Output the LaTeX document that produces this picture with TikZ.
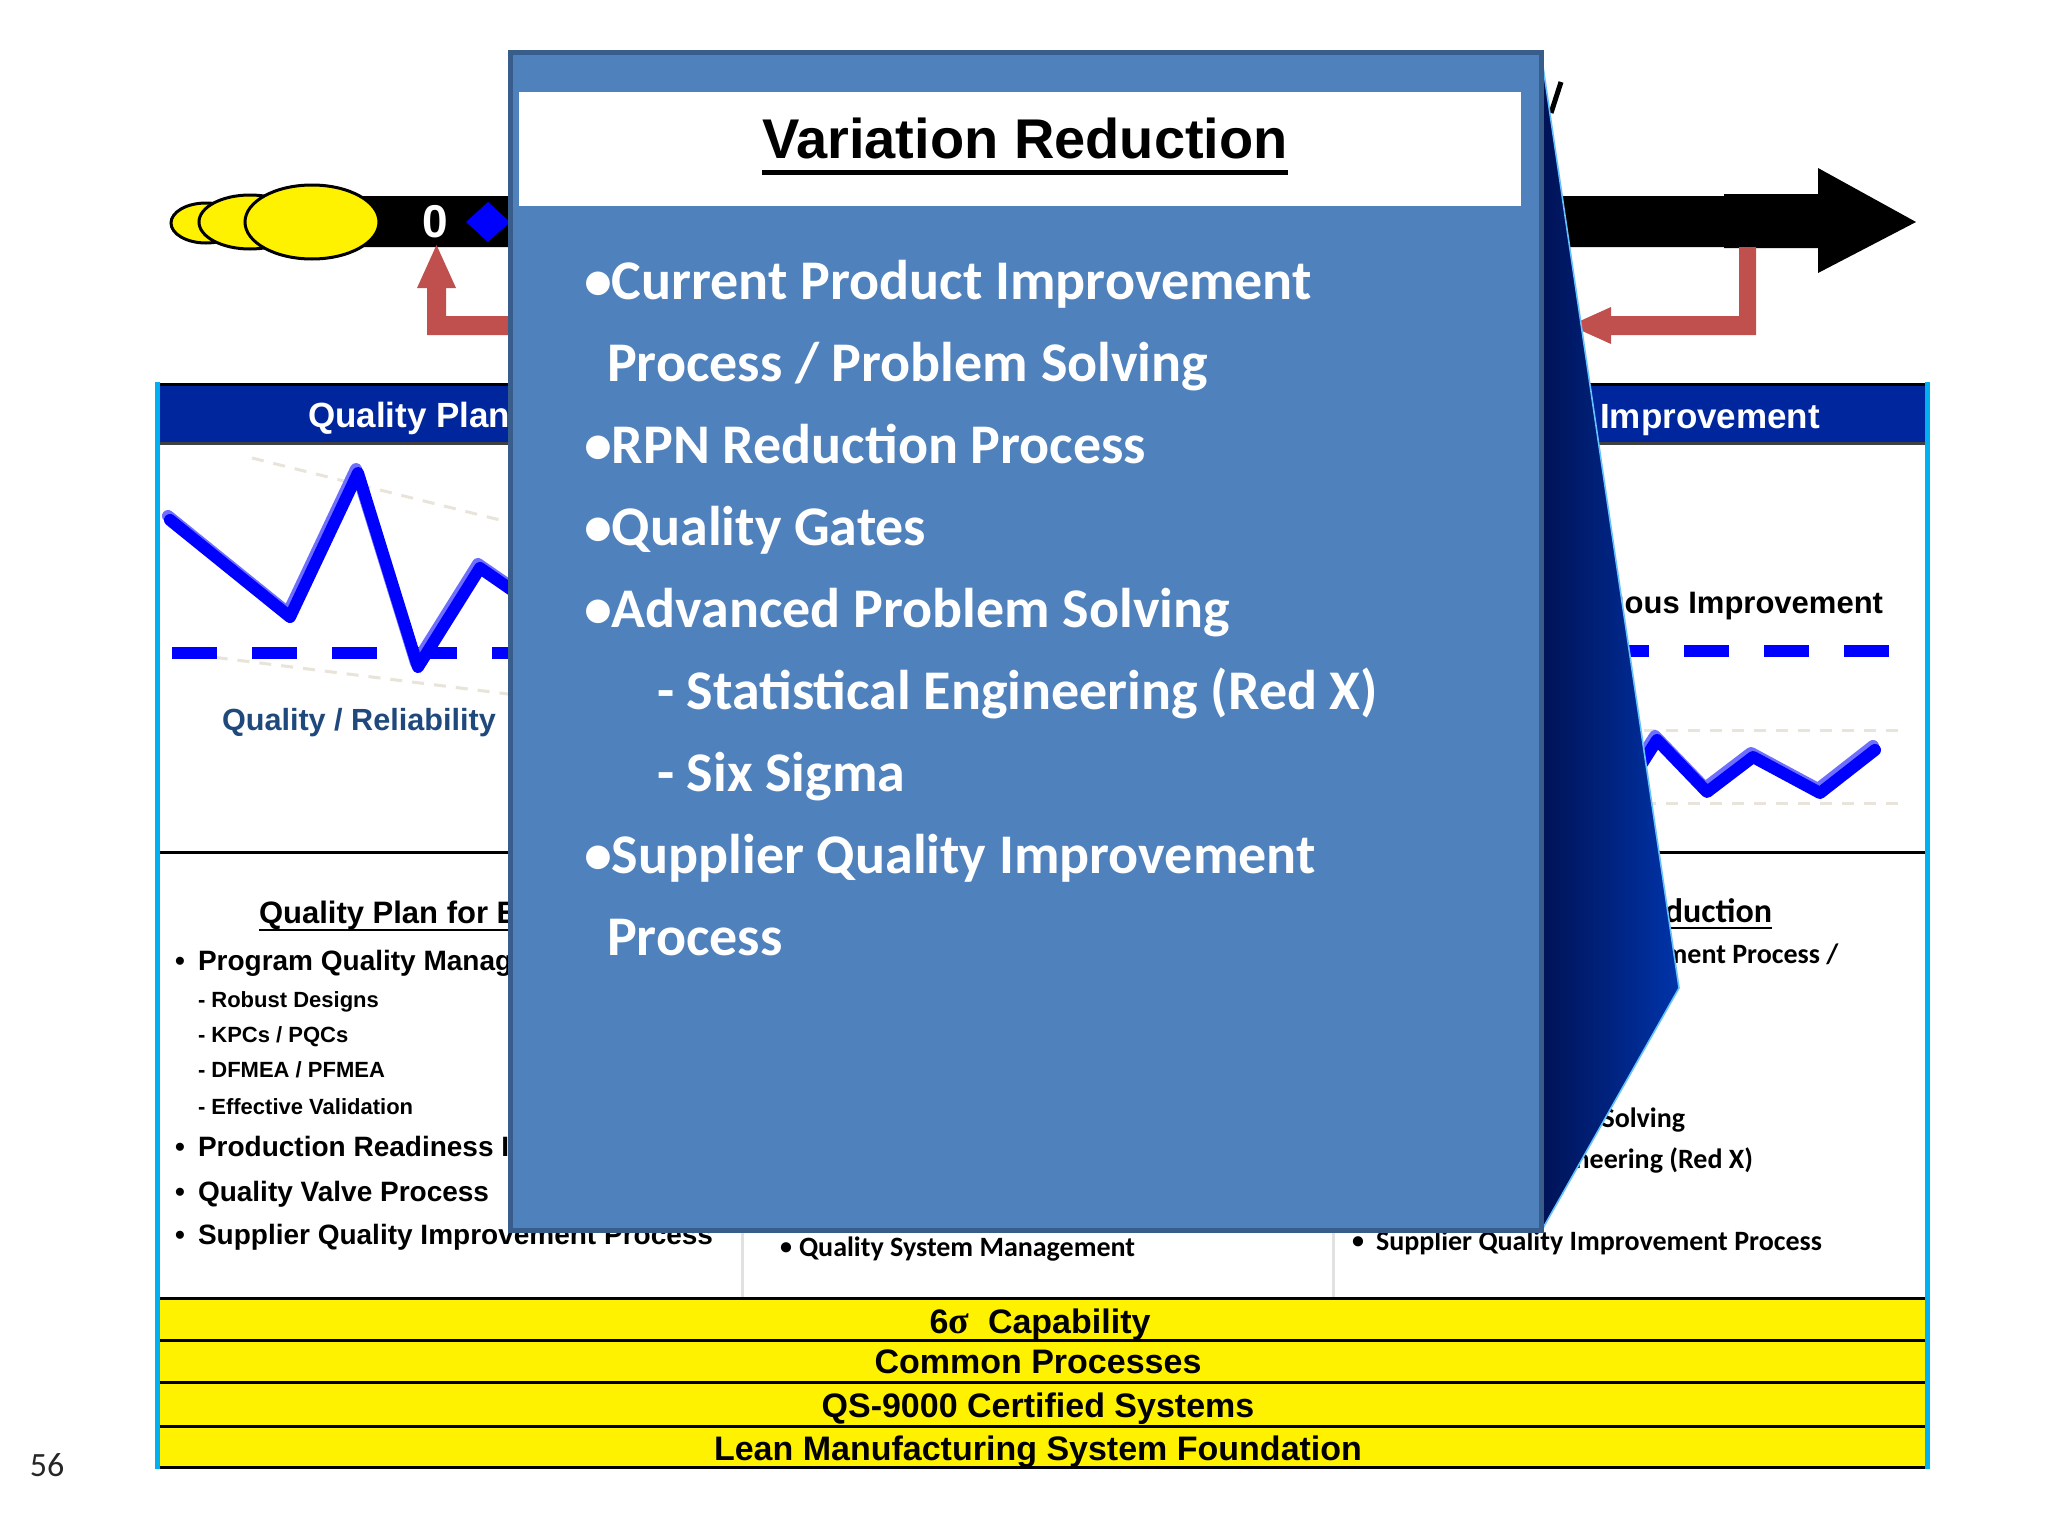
\documentclass[tikz,border=0pt]{standalone}
\usepackage{fontspec}
\setmainfont{Liberation Sans}
\newfontfamily\calibri{Carlito}
\newfontfamily\symserif{Liberation Serif}
\newcommand\fs[1]{\fontsize{#1}{#1}\selectfont}
\usetikzlibrary{shapes.geometric}
\definecolor{hdrblue}{RGB}{0,38,158}
\definecolor{cyanb}{RGB}{0,176,240}
\definecolor{popfill}{RGB}{79,129,189}
\definecolor{popedge}{RGB}{56,93,138}
\definecolor{arrred}{RGB}{192,80,77}
\definecolor{darkblue}{RGB}{31,73,125}
\definecolor{faint}{RGB}{232,228,218}
\definecolor{foldL}{RGB}{0,18,85}
\definecolor{foldR}{RGB}{0,52,170}
\definecolor{divgray}{RGB}{225,225,225}
\definecolor{lineshade}{RGB}{110,110,255}
\begin{document}
\begin{tikzpicture}[x=0.5pt,y=-0.5pt,
  txt/.style={inner sep=0pt, outer sep=0pt},
  ar/.style={txt, font=\bfseries\fs{14pt}},
  arsub/.style={txt, font=\bfseries\fs{11pt}},
  cb/.style={txt, font=\calibri\bfseries\fs{14pt}},
  cbul/.style={txt, font=\calibri\bfseries\fs{12pt}},
  pop/.style={txt, text=white, font=\calibri\bfseries\fs{28pt}},
  band/.style={txt, font=\bfseries\fs{17pt}},
  hdr/.style={txt, text=white, font=\bfseries\fs{17.5pt}},
  blob/.style={ellipse, draw=black, line width=1.5pt, fill=yellow, inner sep=0pt},
  trend/.style={blue, line width=6pt, line join=round, line cap=round},
  trendshade/.style={lineshade, line width=6pt, line join=round, line cap=round},
  level/.style={blue, line width=6pt, dash pattern=on 22.5pt off 17.5pt},
  faintline/.style={faint, line width=1.5pt, dash pattern=on 6pt off 5pt},
  rule/.style={black, line width=1.5pt}
]
\fill[white] (0,0) rectangle (2048,1536);
\useasboundingbox (0,0) rectangle (2048,1536);

% ---------- timeline arrow ----------
\fill[black] (330,196) -- (1724,196) -- (1724,194) -- (1818,194) -- (1818,168)
  -- (1916,222) -- (1818,273) -- (1818,248) -- (1724,248) -- (1724,247) -- (330,247) -- cycle;
\node[blob, minimum width=35pt, minimum height=20pt] (e1) at (206,223) {};
\node[blob, minimum width=51pt, minimum height=27pt] (e2) at (250,222) {};
\node[blob, minimum width=67pt, minimum height=37pt] (e3) at (312,222) {};
\node[txt, text=white, font=\bfseries\fs{23pt}] (zero) at (435,222) {0};
\fill[blue] (466,222) -- (488,202) -- (510,222) -- (488,242) -- cycle;
\draw[black, line width=2.5pt] (1561,82) -- (1551,113);

% red feedback arrows
\fill[arrred] (417,288) -- (436.5,245) -- (456,288) -- (446,288) -- (446,316)
  -- (530,316) -- (530,335) -- (427,335) -- (427,288) -- cycle;
\fill[arrred] (1756,247) -- (1756,335) -- (1611,335) -- (1611,344) -- (1570,325.5)
  -- (1611,307) -- (1611,316) -- (1739,316) -- (1739,247) -- cycle;

% ---------- frame header ----------
\fill[hdrblue] (157,384) rectangle (1927,442);
\draw[rule] (157,384) -- (1927,384);
\draw[black!75, line width=1.5pt] (157,443) -- (1927,443);
\node[hdr, anchor=base west] (h1) at (308,427) {Quality Planning};
\node[hdr, anchor=base east] (h3) at (1820,428) {Continuous Improvement};

% ---------- left chart ----------
\draw[faintline] (252,458) -- (540,530);
\draw[faintline] (172,652) -- (540,698);
\draw[level] (172,653) -- (540,653);
\draw[trendshade] (168,516) -- (288,613) -- (356,469) -- (416,663) -- (478,564) -- (530,600);
\draw[trend] (170,520) -- (290,617) -- (358,473) -- (418,667) -- (480,568) -- (532,604);
\node[txt, text=darkblue, font=\bfseries\fs{15.3pt}, anchor=base west] (qr) at (222,730) {Quality / Reliability};

% ---------- right chart ----------
\draw[faintline] (1600,730) -- (1900,730);
\draw[faintline] (1600,803) -- (1900,803);
\draw[level] (1889,651) -- (1560,651);
\draw[trendshade] (1618,794) -- (1655,736) -- (1705,788) -- (1751,753) -- (1818,789) -- (1873,746);
\draw[trend] (1620,798) -- (1657,740) -- (1707,792) -- (1753,757) -- (1820,793) -- (1875,750);
\node[txt, font=\bfseries\fs{15.5pt}, anchor=base east] (ci) at (1883,613) {Continuous Improvement};

% ---------- dividers ----------
\draw[rule] (157,852) -- (1927,852);
\draw[divgray, line width=1.5pt] (742,853) -- (742,1297);
\draw[divgray, line width=1.5pt] (1333,853) -- (1333,1297);

% ---------- left column text ----------
\node[txt, font=\bfseries\fs{15.5pt}, anchor=base west] (lhead) at (259,923) {Quality Plan for E};
\draw[black, line width=1.3pt] ([yshift=-3.5pt]lhead.base west) -- ([yshift=-3.5pt]lhead.base east);
\node[ar, anchor=base west] (lb1) at (175,970) {•};
\node[ar, anchor=base west] (lt1) at (198,970) {Program Quality Manag};
\node[arsub, anchor=base west] (ls1) at (198,1007) {- Robust Designs};
\node[arsub, anchor=base west] (ls2) at (198,1042) {- KPCs / PQCs};
\node[arsub, anchor=base west] (ls3) at (198,1077) {- DFMEA / PFMEA};
\node[arsub, anchor=base west] (ls4) at (198,1114) {- Effective Validation};
\node[ar, anchor=base west] (lb2) at (175,1156) {•};
\node[ar, anchor=base west] (lt2) at (198,1156) {Production Readiness I};
\node[ar, anchor=base west] (lb3) at (175,1201) {•};
\node[ar, anchor=base west] (lt3) at (198,1201) {Quality Valve Process};
\node[ar, anchor=base west] (lb4) at (175,1244) {•};
\node[ar, anchor=base west] (lt4) at (198,1244) {Supplier Quality Improvement Process};

% ---------- middle column text ----------
\node[cbul, anchor=base west] (mb1) at (780,1254) {•};
\node[cb, anchor=base west] (mt1) at (799,1256) {Quality System Management};

% ---------- right column text ----------
\node[txt, font=\calibri\bfseries\fs{17pt}, anchor=base east] (rhead) at (1772,922) {Variation Reduction};
\draw[black, line width=1.3pt] ([yshift=-3pt]rhead.base west) -- ([yshift=-3pt]rhead.base east);
\node[cbul, anchor=base west] (rb1) at (1352,961) {•};
\node[cb, anchor=base west] (rt1) at (1376,963) {Current Product Improvement Process /};
\node[cb, anchor=base west] (rt1b) at (1376,1004) {Problem Solving};
\node[cbul, anchor=base west] (rb2) at (1352,1043) {•};
\node[cb, anchor=base west] (rt2) at (1376,1045) {RPN Reduction Process};
\node[cbul, anchor=base west] (rb3) at (1352,1084) {•};
\node[cb, anchor=base west] (rt3) at (1376,1086) {Quality Gates};
\node[cbul, anchor=base west] (rb4) at (1352,1125) {•};
\node[cb, anchor=base west] (rt4) at (1376,1127) {Advanced Problem Solving};
\node[cb, anchor=base east] (rs1) at (1753,1168) {- Statistical Engineering (Red X)};
\node[cb, anchor=base west] (rs2) at (1391,1209) {- Six Sigma};
\node[cbul, anchor=base west] (rb5) at (1352,1248) {•};
\node[cb, anchor=base west] (rt5) at (1376,1250) {Supplier Quality Improvement Process};

% ---------- foundation bands ----------
\fill[yellow] (157,1298) rectangle (1927,1467);
\foreach \yy in {1298,1340,1382,1426,1467} \draw[rule] (157,\yy) -- (1927,\yy);
\node[band, anchor=base] (f1) at (1040,1333) {6{\symserif\bfseries\fs{19pt}σ}\ \ Capability};
\node[band, anchor=base] (f2) at (1038,1373) {Common Processes};
\node[band, anchor=base] (f3) at (1038,1417) {QS-9000 Certified Systems};
\node[band, anchor=base] (f4) at (1038,1460) {Lean Manufacturing System Foundation};

% cyan side borders
\draw[cyanb, line width=2.5pt] (157,382) -- (157,1469);
\draw[cyanb, line width=2.5pt] (1927,382) -- (1927,1469);

% ---------- pop-up panel ----------
\shade[left color=foldL, right color=foldR] (1541,53) -- (1679,988) -- (1543,1228) -- cycle;
\draw[blue!40!cyan!60!white, line width=0.8pt] (1541,53) -- (1679,988) -- (1543,1228);
\draw[popedge, fill=popfill, line width=2.5pt] (510,53) rectangle (1541,1230);
\fill[white] (519,92) rectangle (1521,206);
\node[txt, font=\bfseries\fs{28pt}, anchor=base] (ptitle) at (1025,158) {Variation Reduction};
\draw[black, line width=2.5pt] ([yshift=-7pt]ptitle.base west) -- ([yshift=-7pt]ptitle.base east);
\node[pop, anchor=base west] (p1) at (584,299) {•Current Product Improvement};
\node[pop, anchor=base west] (p1b) at (607,381) {Process / Problem Solving};
\node[pop, anchor=base west] (p2) at (584,463) {•RPN Reduction Process};
\node[pop, anchor=base west] (p3) at (584,545) {•Quality Gates};
\node[pop, anchor=base west] (p4) at (584,627) {•Advanced Problem Solving};
\node[pop, anchor=base west] (p4a) at (657,709) {- Statistical Engineering (Red X)};
\node[pop, anchor=base west] (p4b) at (657,791) {- Six Sigma};
\node[pop, anchor=base west] (p5) at (584,873) {•Supplier Quality Improvement};
\node[pop, anchor=base west] (p5b) at (607,955) {Process};

% page number
\node[txt, text=black!85, font=\calibri\fs{17pt}] (pg) at (47,1465) {56};
\end{tikzpicture}
\end{document}
